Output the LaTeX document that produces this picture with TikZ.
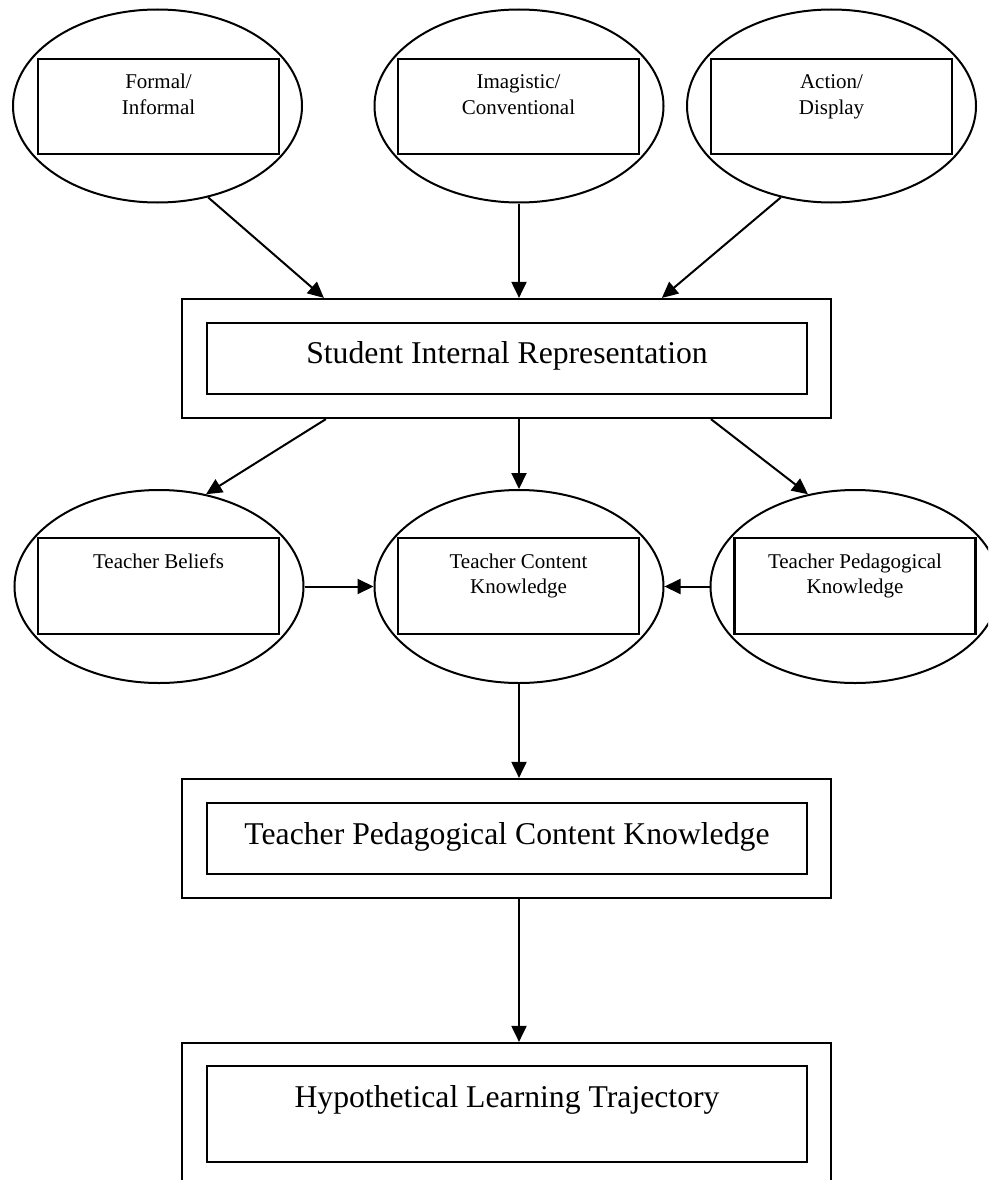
\documentclass[tikz,border=0pt]{standalone}
\usepackage{fontspec}
\setmainfont{Liberation Serif}
\usetikzlibrary{shapes.geometric,arrows.meta,calc}
\begin{document}
\begin{tikzpicture}[x=1pt,y=-1pt,
 oval/.style={draw, ellipse, line width=2pt, minimum width=289pt, minimum height=193pt, inner sep=0pt},
 inbox/.style={draw, line width=2.4pt, minimum width=241pt, minimum height=95pt, inner sep=0pt},
 small/.style={font=\fontsize{21}{25}\selectfont, align=center, inner sep=0pt, anchor=base},
 outbox/.style={draw, line width=2.2pt, minimum width=649pt, minimum height=119pt, inner sep=0pt},
 bigbox/.style={draw, line width=2.4pt, minimum width=600pt, minimum height=71pt, inner sep=0pt},
 big/.style={font=\fontsize{31.7}{38}\selectfont, inner sep=0pt, anchor=base},
 arr/.style={line width=2pt, -{Triangle[length=16pt,width=15pt]}}
]
\useasboundingbox (0,0) rectangle (988,1180);
\clip (0,0) rectangle (988,1180);
\fill[white] (0,0) rectangle (988,1180);

% top row
\node[oval] (e1) at (157.5,106) {};
\node[inbox] (r1) at (158.5,106.5) {};
\node[small] (t1) at (158.5,114) {Formal/\\Informal};
\node[oval] (e2) at (519,106) {};
\node[inbox] (r2) at (518.5,106.5) {};
\node[small] (t2) at (518.5,114) {Imagistic/\\Conventional};
\node[oval] (e3) at (831.5,106) {};
\node[inbox] (r3) at (831.5,106.5) {};
\node[small] (t3) at (831.5,114) {Action/\\Display};

% student box
\node[outbox] (sout) at (506.5,358.5) {};
\node[bigbox] (sin) at (507,358.5) {};
\node[big] (st) at (507,363) {Student Internal Representation};

% middle row
\node[oval] (e4) at (159,586.5) {};
\node[inbox, minimum height=96pt] (r4) at (158.5,586) {};
\node[small] (t4) at (158.5,568) {Teacher Beliefs};
\node[oval] (e5) at (519,586.5) {};
\node[inbox, minimum height=96pt] (r5) at (518.5,586) {};
\node[small] (t5) at (518.5,593) {Teacher Content\\Knowledge};
\node[oval] (e6) at (855,586.5) {};
\node[inbox, minimum height=96pt] (r6) at (855,586) {};
\node[small] (t6) at (855,593) {Teacher Pedagogical\\Knowledge};

% TPCK box
\node[outbox] (tout) at (506.5,838.5) {};
\node[bigbox] (tin) at (507,838.5) {};
\node[big] (tt) at (507,844) {Teacher Pedagogical Content Knowledge};

% HLT box
\node[outbox, minimum height=147pt] (hout) at (506.5,1116.5) {};
\node[bigbox, minimum height=96pt] (hin) at (507,1114) {};
\node[big] (ht) at (507,1107) {Hypothetical Learning Trajectory};

% arrows top
\draw[arr] (e1.-61) -- ([xshift=143pt]sout.north west);
\draw[arr] (e2.south) -- (e2.south |- sout.north);
\draw[arr] (e3.-119) -- ([xshift=481pt]sout.north west);

% arrows student -> middle
\draw[arr] ([xshift=145pt]sout.south west) -- (e4.63);
\draw[arr] (e5.north |- sout.south) -- (e5.north);
\draw[arr] ([xshift=530pt]sout.south west) -- (e6.117);

% horizontal
\draw[arr] (e4.east) -- (e5.west);
\draw[arr] (e6.west) -- (e5.east);

% down
\draw[arr] (e5.south) -- (e5.south |- tout.north);
\draw[arr] (e5.south |- tout.south) -- (e5.south |- hout.north);
\end{tikzpicture}
\end{document}
